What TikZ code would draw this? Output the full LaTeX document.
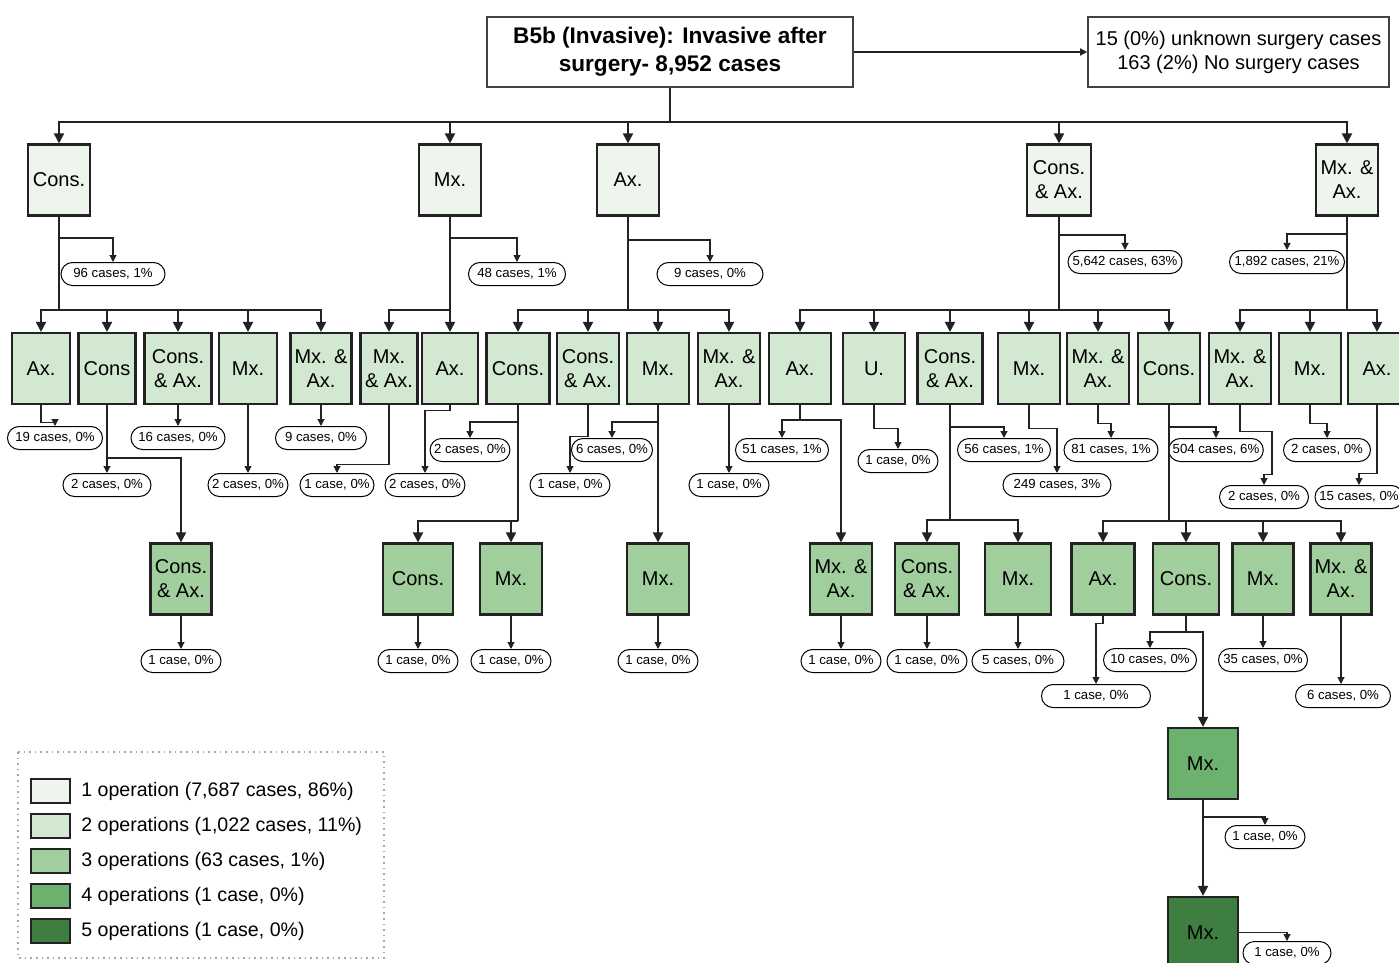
\documentclass[tikz,border=0pt]{standalone}
\usepackage{fontspec}
\setmainfont{Liberation Sans}
\usetikzlibrary{arrows.meta, positioning}
\definecolor{cline}{HTML}{222222}
\definecolor{lvone}{HTML}{EEF5EC}
\definecolor{lvtwo}{HTML}{D2E8D0}
\definecolor{lvthree}{HTML}{A0CF9D}
\definecolor{lvfour}{HTML}{6CB16E}
\definecolor{lvfive}{HTML}{3E7E41}
\newcommand{\opfont}{\fontsize{10}{12}\selectfont}
\newcommand{\cntfont}{\fontsize{6.6}{7}\selectfont}
\tikzset{
  opbox/.style={draw=cline, fill=#1, line width=1.1pt, minimum width=31pt, minimum height=35.5pt, inner sep=1pt, align=center, font=\opfont},
  opbox/.default=lvone,
  titlebox/.style={draw=cline!85, line width=0.8pt, minimum height=35pt, align=center, inner sep=2pt},
  cnt/.style={draw=black, fill=white, line width=0.5pt, rounded corners=5.75pt, minimum height=11.5pt, minimum width=#1, inner xsep=2pt, inner ysep=0pt, font=\cntfont},
  cnt/.default=40pt,
  trunk/.style={draw=cline, line width=1pt},
  branch/.style={trunk, -{Triangle[length=5pt, width=5pt]}},
  tick/.style={draw=cline, line width=0.55pt, -{Triangle[length=3.5pt, width=3.5pt]}},
  swatch/.style={draw=cline, fill=#1, line width=0.9pt, minimum width=19.5pt, minimum height=12pt, inner sep=0pt},
  keytext/.style={font=\fontsize{9.8}{11}\selectfont, inner sep=0pt},
}

\begin{document}
\begin{tikzpicture}[x=0.5pt, y=-0.5pt]
  \useasboundingbox (0,0) rectangle (1399,963);

  \node[titlebox, minimum width=183pt, font=\bfseries\fontsize{11.3}{14}\selectfont] (root) at (670,52) {B5b (Invasive): Invasive after\\surgery- 8,952 cases};
  \node[titlebox, minimum width=150.5pt, font=\fontsize{10}{12}\selectfont] (rest) at (1238.5,52) {15 (0\%) unknown surgery cases\\163 (2\%) No surgery cases};
  \draw[tick, line width=0.7pt] (root) -- (rest);

  % first operation
  \node[opbox] (cn) at (59,180) {Cons.};
  \node[opbox] (mx) at (450,180) {Mx.};
  \node[opbox] (ax) at (628,180) {Ax.};
  \node[opbox, minimum width=32pt] (ca) at (1059,180) {Cons.\\\& Ax.};
  \node[opbox] (ma) at (1347,180) {Mx. \&\\Ax.};
  \draw[trunk] (root) -- (root.south |- 0,122);
  \foreach \n in {cn,mx,ax,ca,ma}
    \draw[branch] (root.south |- 0,122) -| (\n.north);

  \node[cnt=52pt] (cn-n) at (113,274) {96 cases, 1\%};
  \node[cnt=48.5pt] (mx-n) at (517,274) {48 cases, 1\%};
  \node[cnt=53pt] (ax-n) at (710,274) {9 cases, 0\%};
  \node[cnt=57pt] (ca-n) at (1125,262) {5,642 cases, 63\%};
  \node[cnt=57.5pt] (ma-n) at (1287,262) {1,892 cases, 21\%};
  \draw[tick] (cn.south |- 0,238) -| (cn-n.north);
  \draw[tick] (mx.south |- 0,238) -| (mx-n.north);
  \draw[tick] (ax.south |- 0,240) -| (ax-n.north);
  \draw[tick] (ca.south |- 0,235) -| (ca-n.north);
  \draw[tick] (ma.south |- 0,234) -| (ma-n.north);
  \foreach \n in {cn,mx,ax,ca,ma}
    \draw[trunk] (\n.south) -- (\n.south |- 0,310);

  % second operation
  \node[opbox=lvtwo, minimum width=29pt] (cn-ax) at (41,368.5) {Ax.};
  \node[opbox=lvtwo, minimum width=28.5pt] (cn-cn) at (107,368.5) {Cons};
  \node[opbox=lvtwo, minimum width=33.5pt] (cn-ca) at (178,368.5) {Cons.\\\& Ax.};
  \node[opbox=lvtwo, minimum width=29pt] (cn-mx) at (248,368.5) {Mx.};
  \node[opbox=lvtwo, minimum width=30.5pt] (cn-ma) at (321,368.5) {Mx. \&\\Ax.};
  \node[opbox=lvtwo, minimum width=28.5pt] (mx-ma) at (389,368.5) {Mx.\\\& Ax.};
  \node[opbox=lvtwo, minimum width=28pt] (mx-ax) at (450,368.5) {Ax.};
  \node[opbox=lvtwo, minimum width=31.5pt] (ax-cn) at (518,368.5) {Cons.};
  \node[opbox=lvtwo] (ax-ca) at (588,368.5) {Cons.\\\& Ax.};
  \node[opbox=lvtwo] (ax-mx) at (658,368.5) {Mx.};
  \node[opbox=lvtwo] (ax-ma) at (729,368.5) {Mx. \&\\Ax.};
  \node[opbox=lvtwo] (ca-ax) at (800,368.5) {Ax.};
  \node[opbox=lvtwo] (ca-u) at (874,368.5) {U.};
  \node[opbox=lvtwo, minimum width=32.5pt] (ca-ca) at (950,368.5) {Cons.\\\& Ax.};
  \node[opbox=lvtwo] (ca-mx) at (1029,368.5) {Mx.};
  \node[opbox=lvtwo] (ca-ma) at (1098,368.5) {Mx. \&\\Ax.};
  \node[opbox=lvtwo] (ca-cn) at (1169,368.5) {Cons.};
  \node[opbox=lvtwo] (ma-ma) at (1240,368.5) {Mx. \&\\Ax.};
  \node[opbox=lvtwo] (ma-mx) at (1310,368.5) {Mx.};
  \node[opbox=lvtwo, minimum width=29pt] (ma-ax) at (1377,368.5) {Ax.};
  \foreach \n in {cn-ax,cn-cn,cn-ca,cn-mx,cn-ma}
    \draw[branch] (cn.south |- 0,310) -| (\n.north);
  \foreach \n in {mx-ma,mx-ax}
    \draw[branch] (mx.south |- 0,310) -| (\n.north);
  \foreach \n in {ax-cn,ax-ca,ax-mx,ax-ma}
    \draw[branch] (ax.south |- 0,310) -| (\n.north);
  \foreach \n in {ca-ax,ca-u,ca-ca,ca-mx,ca-ma,ca-cn}
    \draw[branch] (ca.south |- 0,310) -| (\n.north);
  \foreach \n in {ma-ma,ma-mx,ma-ax}
    \draw[branch] (ma.south |- 0,310) -| (\n.north);

  \node[cnt=47.5pt] (cn-ax-n) at (55,438) {19 cases, 0\%};
  \node[cnt=44pt] (cn-cn-n) at (107,485) {2 cases, 0\%};
  \node[cnt=47pt] (cn-ca-n) at (178,438) {16 cases, 0\%};
  \node[cnt=40pt] (cn-mx-n) at (248,485) {2 cases, 0\%};
  \node[cnt=45.5pt] (cn-ma-n) at (321,438) {9 cases, 0\%};
  \node[cnt=37pt] (mx-ma-n) at (337,485) {1 case, 0\%};
  \node[cnt=39.5pt] (mx-ax-n) at (425,485) {2 cases, 0\%};
  \node[cnt=39.5pt] (ax-cn-n) at (470,450) {2 cases, 0\%};
  \node[cnt=40pt] (ax-ca-n) at (570,485) {1 case, 0\%};
  \node[cnt=40.5pt] (ax-mx-n) at (612,450) {6 cases, 0\%};
  \node[cnt=40pt] (ax-ma-n) at (729,485) {1 case, 0\%};
  \node[cnt=46.5pt] (ca-ax-n) at (782,450) {51 cases, 1\%};
  \node[cnt=40pt] (ca-u-n) at (898,461) {1 case, 0\%};
  \node[cnt=46.5pt] (ca-ca-n) at (1004,450) {56 cases, 1\%};
  \node[cnt=54pt] (ca-mx-n) at (1057,485) {249 cases, 3\%};
  \node[cnt=47pt] (ca-ma-n) at (1111,450) {81 cases, 1\%};
  \node[cnt=45.5pt] (ca-cn-n) at (1216,450) {504 cases, 6\%};
  \node[cnt=44.5pt] (ma-ma-n) at (1264,497) {2 cases, 0\%};
  \node[cnt=43.5pt] (ma-mx-n) at (1327,450) {2 cases, 0\%};
  \node[cnt=44pt] (ma-ax-n) at (1359,497) {15 cases, 0\%};
  \foreach \n in {cn-cn,cn-ca,cn-mx,cn-ma,ax-ma}
    \draw[tick] (\n.south) -- (\n-n.north);
  \draw[tick] (cn-ax.south) -- ++(0,17) -| (cn-ax-n.north);
  \draw[tick] (mx-ma.south) -- ++(0,59) -| (mx-ma-n.north);
  \draw[tick] (mx-ax.south) -- ++(0,5) -| (mx-ax-n.north);
  \draw[tick] (ax-cn.south |- 0,422) -| (ax-cn-n.north);
  \draw[tick] (ax-ca.south) -- ++(0,31) -| (ax-ca-n.north);
  \draw[tick] (ax-mx.south |- 0,422) -| (ax-mx-n.north);
  \draw[tick] (ca-ax.south |- 0,420) -| (ca-ax-n.north);
  \draw[tick] (ca-u.south) -- ++(0,23) -| (ca-u-n.north);
  \draw[tick] (ca-ca.south |- 0,427) -| (ca-ca-n.north);
  \draw[tick] (ca-mx.south) -- ++(0,23) -| (ca-mx-n.north);
  \draw[tick] (ca-ma.south) -- ++(0,18) -| (ca-ma-n.north);
  \draw[tick] (ca-cn.south |- 0,427) -| (ca-cn-n.north);
  \draw[tick] (ma-ma.south) -- ++(0,26) -- ++(32,0) -- ++(0,43) -| (ma-ma-n.north);
  \draw[tick] (ma-mx.south) -- ++(0,18) -| (ma-mx-n.north);
  \draw[tick] (ma-ax.south) -- ++(0,68) -| (ma-ax-n.north);

  % third operation
  \node[opbox=lvthree, minimum width=30.5pt] (cn-cn-ca) at (181,579) {Cons.\\\& Ax.};
  \node[opbox=lvthree, minimum width=35pt] (ax-cn-cn) at (418,579) {Cons.};
  \node[opbox=lvthree] (ax-cn-mx) at (511,579) {Mx.};
  \node[opbox=lvthree] (ax-mx-mx) at (658,579) {Mx.};
  \node[opbox=lvthree] (ca-ax-ma) at (841,579) {Mx. \&\\Ax.};
  \node[opbox=lvthree, minimum width=32pt] (ca-ca-ca) at (927,579) {Cons.\\\& Ax.};
  \node[opbox=lvthree, minimum width=33pt] (ca-ca-mx) at (1018,579) {Mx.};
  \node[opbox=lvthree, minimum width=31.5pt] (ca-cn-ax) at (1103,579) {Ax.};
  \node[opbox=lvthree, minimum width=33pt] (ca-cn-cn) at (1186,579) {Cons.};
  \node[opbox=lvthree, minimum width=30.5pt] (ca-cn-mx) at (1263,579) {Mx.};
  \node[opbox=lvthree, minimum width=30.5pt] (ca-cn-ma) at (1341,579) {Mx. \&\\Ax.};
  \draw[branch] (cn-cn.south |- 0,458) -| (cn-cn-ca.north);
  \draw[trunk] (ax-cn.south) -- (ax-cn.south |- 0,521);
  \foreach \n in {ax-cn-cn,ax-cn-mx}
    \draw[branch] (ax-cn.south |- 0,521) -| (\n.north);
  \draw[branch] (ax-mx) -- (ax-mx-mx);
  \draw[trunk] (ca-ax.south) -- (ca-ax.south |- 0,420);
  \draw[branch] (ca-ax.south |- 0,420) -| (ca-ax-ma.north);
  \draw[trunk] (ca-ca.south) -- (ca-ca.south |- 0,520);
  \foreach \n in {ca-ca-ca,ca-ca-mx}
    \draw[branch] (ca-ca.south |- 0,520) -| (\n.north);
  \draw[trunk] (ca-cn.south) -- (ca-cn.south |- 0,521);
  \foreach \n in {ca-cn-ax,ca-cn-cn,ca-cn-mx,ca-cn-ma}
    \draw[branch] (ca-cn.south |- 0,521) -| (\n.north);

  \node[cnt] (cn-cn-ca-n) at (181,661) {1 case, 0\%};
  \node[cnt] (ax-cn-cn-n) at (418,661) {1 case, 0\%};
  \node[cnt] (ax-cn-mx-n) at (511,661) {1 case, 0\%};
  \node[cnt] (ax-mx-mx-n) at (658,661) {1 case, 0\%};
  \node[cnt] (ca-ax-ma-n) at (841,661) {1 case, 0\%};
  \node[cnt] (ca-ca-ca-n) at (927,661) {1 case, 0\%};
  \node[cnt=46pt] (ca-ca-mx-n) at (1018,661) {5 cases, 0\%};
  \node[cnt=54.5pt] (ca-cn-ax-n) at (1096,696) {1 case, 0\%};
  \node[cnt=46.5pt] (ca-cn-cn-n) at (1150,660) {10 cases, 0\%};
  \node[cnt=44.5pt] (ca-cn-mx-n) at (1263,660) {35 cases, 0\%};
  \node[cnt=47.5pt] (ca-cn-ma-n) at (1343,696) {6 cases, 0\%};
  \foreach \n in {cn-cn-ca,ax-cn-cn,ax-cn-mx,ax-mx-mx,ca-ax-ma,ca-ca-ca,ca-ca-mx,ca-cn-mx}
    \draw[tick] (\n.south) -- (\n-n.north);
  \draw[tick] (ca-cn-ma.south) -- (ca-cn-ma.south |- ca-cn-ma-n.north);
  \draw[tick] (ca-cn-ax.south) -- ++(0,8) -| (ca-cn-ax-n.north);
  \draw[trunk] (ca-cn-cn.south) -- (ca-cn-cn.south |- 0,632);
  \draw[tick] (ca-cn-cn.south |- 0,632) -| (ca-cn-cn-n.north);

  % fourth and fifth operation
  \node[opbox=lvfour, minimum width=35pt] (ca-cn-cn-mx) at (1203,763.5) {Mx.};
  \node[opbox=lvfive, minimum width=35pt] (ca-cn-cn-mx-mx) at (1203,932.5) {Mx.};
  \draw[branch] (ca-cn-cn.south |- 0,632) -| (ca-cn-cn-mx.north);
  \draw[branch] (ca-cn-cn-mx) -- (ca-cn-cn-mx-mx);
  \node[cnt] (ca-cn-cn-mx-n) at (1265,837) {1 case, 0\%};
  \node[cnt=44pt] (ca-cn-cn-mx-mx-n) at (1287,953) {1 case, 0\%};
  \draw[tick] (ca-cn-cn-mx.south |- 0,817) -| (ca-cn-cn-mx-n.north);
  \draw[tick] (ca-cn-cn-mx-mx.east) -| (ca-cn-cn-mx-mx-n.north);

  % legend
  \draw[gray!70, line width=0.8pt, dotted] (18,752) rectangle (384,958);
  \foreach \y/\c/\t in {791/lvone/{1 operation (7,687 cases, 86\%)},
                        826/lvtwo/{2 operations (1,022 cases, 11\%)},
                        861/lvthree/{3 operations (63 cases, 1\%)},
                        896/lvfour/{4 operations (1 case, 0\%)},
                        931/lvfive/{5 operations (1 case, 0\%)}} {
    \node[swatch=\c] (key\y) at (50.5,\y) {};
    \node[keytext, right=5pt of key\y] (keylbl\y) {\t};
  }
\end{tikzpicture}
\end{document}
